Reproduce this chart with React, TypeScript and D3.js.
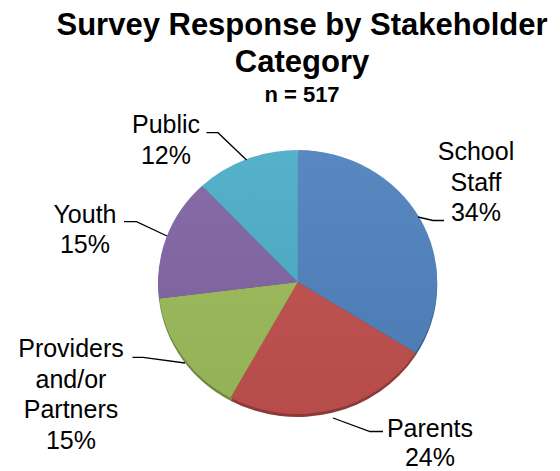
import React from "react";
import * as d3 from "d3";

const categories = ["School Staff", "Parents", "Providers and/or Partners", "Youth", "Public"];
const labelLines = [["School", "Staff"], ["Parents"], ["Providers", "and/or", "Partners"], ["Youth"], ["Public"]];
const percents = [34, 24, 15, 15, 12];
const colors = ["#4F81BD", "#C0504D", "#9BBB59", "#8064A2", "#4BACC6"];

const titleLines = ["Survey Response by Stakeholder", "Category"];
const subtitle = "n = 517";

// label layout: text center x, first baseline y, elbow x, horizontal end x, horizontal y
const labelLayout = [
  { x: 476, y: 160, ex: 433, hx: 444, hy: 220.5, start: [418, 217], gap: 30.7 },
  { x: 430, y: 437, ex: 370, hx: 383, hy: 431.5, start: [333, 418], gap: 28.5 },
  { x: 71, y: 357, ex: 143, hx: 132.5, hy: 357.3, start: [185, 363], gap: 30.7 },
  { x: 85, y: 222.5, ex: 136.5, hx: 124, hy: 221.7, start: [167, 236], gap: 30.7 },
  { x: 166, y: 133, ex: 218, hx: 206.5, hy: 132.7, start: [246.5, 160], gap: 30.7 },
];

const W = 560;
const H = 471;
const cx = 297.7;
const cy = 282;
const rx = 139.5;
const ry = 132;
const FONT = "Arial, 'Liberation Sans', sans-serif";

export default function App() {
  const pie = d3.pie<number>().sort(null).value((d) => d)(percents);
  const arc = d3.arc<d3.PieArcDatum<number>>().innerRadius(0).outerRadius(rx);
  const sy = ry / rx;

  return (
    <svg width={W} height={H} style={{ display: "block", position: "absolute", left: 0, top: 0 }}>
      <defs>
        <linearGradient id="shade" x1="0" y1="0" x2="0" y2="1">
          <stop offset="0" stopColor="#fff" stopOpacity={0.06} />
          <stop offset="1" stopColor="#000" stopOpacity={0.05} />
        </linearGradient>
      </defs>
      <rect width={W} height={H} fill="#fff" />
      {titleLines.map((t, i) => (
        <text key={t} x={302} y={35 + i * 36.5} textAnchor="middle" fontFamily={FONT} fontWeight="bold" fontSize={31} fill="#000">
          {t}
        </text>
      ))}
      <text x={302} y={102} textAnchor="middle" fontFamily={FONT} fontWeight="bold" fontSize={22} fill="#000">
        {subtitle}
      </text>
      {/* rim */}
      <g transform={`translate(${cx},${cy + 3}) scale(1,${sy})`}>
        {pie.map((p, i) => (
          <path key={"r" + i} d={arc(p) || ""} fill={d3.color(colors[i])!.darker(0.9).toString()} />
        ))}
      </g>
      <g transform={`translate(${cx},${cy}) scale(1,${sy})`}>
        {pie.map((p, i) => (
          <path key={"s" + i} d={arc(p) || ""} fill={colors[i]} />
        ))}
        <ellipse cx={0} cy={0} rx={rx} ry={rx} fill="url(#shade)" />
      </g>
      {pie.map((p, i) => {
        const L = labelLayout[i];
        const pts: [number, number][] = [
          [L.start[0], L.start[1]],
          [L.ex, L.hy],
          [L.hx, L.hy],
        ];
        const lines = [...labelLines[i], `${percents[i]}%`];
        return (
          <g key={"l" + i}>
            <path d={d3.line()(pts) || ""} fill="none" stroke="#000" strokeWidth={1.3} />
            <text x={L.x} y={L.y} textAnchor="middle" fontFamily={FONT} fontSize={25} fill="#000">
              {lines.map((ln, j) => (
                <tspan key={j} x={L.x} dy={j === 0 ? 0 : L.gap}>
                  {ln}
                </tspan>
              ))}
            </text>
          </g>
        );
      })}
    </svg>
  );
}
